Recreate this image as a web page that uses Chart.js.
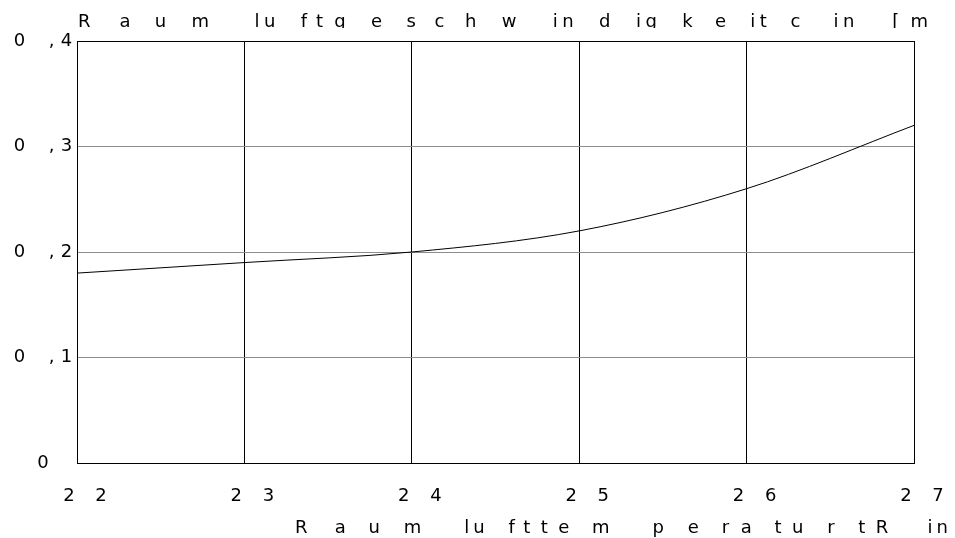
<!DOCTYPE html>
<html>
<head>
<meta charset="utf-8">
<script src="https://cdn.jsdelivr.net/npm/chart.js@4/dist/chart.umd.min.js"></script>
<style>
  html, body { margin: 0; padding: 0; background: #fff; }
  #wrap { width: 955px; height: 538px; position: relative; }
</style>
</head>
<body>
<div id="wrap"><canvas id="c"></canvas></div>
<script>
// Room air temperature (°C) and the corresponding air speed (m/s)
const temperatures = [22, 23, 24, 25, 26, 27];
const airSpeed = [0.18, 0.19, 0.20, 0.22, 0.26, 0.32];

// Tick labels
const xTickLabels = ['22', '23', '24', '25', '26', '27'];
const yTickLabels = ['0', '0,1', '0,2', '0,3', '0,4'];

const titleText = 'Raumluftgeschwindigkeit c in [m';
const xAxisTitle = 'Raumlufttemperatur tR in';

const FONT = '18px "DejaVu Sans"';
// Plotter lettering: each glyph advances by a stretched version of its
// natural width, so wide letters stand far apart and narrow ones huddle.
const STRETCH = 3.6, SHRINK = 10;

function glyphs(ctx, text) {
  return [...text].map(ch => {
    const w = ctx.measureText(ch).width;
    return { ch, w, adv: Math.max(STRETCH * w - SHRINK, w + 2) };
  });
}
function inkWidth(list, k) {
  let w = 0;
  list.forEach((g, i) => { w += i < list.length - 1 ? g.adv * k : g.w; });
  return w;
}
// align: 'left' puts the ink start at x, 'center' centres the ink on x.
// k scales the advances; fit (if given) sets k so the ink spans that width.
function plotterText(ctx, text, x, y, align, k, fit) {
  const list = glyphs(ctx, text);
  if (fit) {
    const base = inkWidth(list, 1) - list[list.length - 1].w;
    k = (fit - list[list.length - 1].w) / base;
  }
  let pos = align === 'center' ? x - inkWidth(list, k) / 2 : x;
  ctx.textAlign = 'left';
  list.forEach(g => {
    ctx.fillText(g.ch, pos, y);
    pos += g.adv * k;
  });
}

const plotterLabels = {
  id: 'plotterLabels',
  afterDraw(chart) {
    const { ctx, chartArea: a, scales } = chart;
    ctx.save();
    // frame
    ctx.strokeStyle = '#000';
    ctx.lineWidth = 1;
    ctx.strokeRect(Math.round(a.left) + 0.5, Math.round(a.top) + 0.5,
                   Math.round(a.right - a.left), Math.round(a.bottom - a.top));

    ctx.fillStyle = '#000';
    ctx.font = FONT;
    ctx.textBaseline = 'middle';

    // x tick labels
    scales.x.ticks.forEach((t, i) => {
      const px = scales.x.getPixelForValue(t.value);
      plotterText(ctx, xTickLabels[i] || '', px + 8, 496, 'center', 1.03);
    });

    // y tick labels
    scales.y.ticks.forEach((t, i) => {
      const py = scales.y.getPixelForValue(t.value);
      plotterText(ctx, yTickLabels[i] || '', a.left - 34, py, 'center', 1.12);
    });

    // title, with descenders cut off at the baseline
    ctx.textBaseline = 'alphabetic';
    ctx.save();
    ctx.beginPath();
    ctx.rect(0, 0, chart.width, 28);
    ctx.clip();
    plotterText(ctx, titleText, a.left + 1, 27, 'left', 1, 850);
    ctx.restore();

    // x axis title
    plotterText(ctx, xAxisTitle, 295, 533, 'left', 1, 653);
    ctx.restore();
  }
};

new Chart(document.getElementById('c'), {
  type: 'line',
  data: {
    datasets: [{
      data: temperatures.map((t, i) => ({ x: t, y: airSpeed[i] })),
      borderColor: '#000',
      borderWidth: 1,
      pointRadius: 0,
      fill: false,
      cubicInterpolationMode: 'monotone'
    }]
  },
  options: {
    responsive: true,
    maintainAspectRatio: false,
    animation: false,
    layout: { padding: { left: 77, top: 41, right: 41, bottom: 75 } },
    plugins: { legend: { display: false }, title: { display: false }, tooltip: { enabled: false } },
    scales: {
      x: {
        type: 'linear',
        min: 22, max: 27,
        ticks: { stepSize: 1, display: false },
        grid: { color: '#000', lineWidth: 1, drawTicks: false },
        border: { color: '#000', width: 1 }
      },
      y: {
        type: 'linear',
        min: 0, max: 0.4,
        ticks: { stepSize: 0.1, display: false },
        grid: { color: '#8c8c8c', lineWidth: 1, drawTicks: false },
        border: { color: '#000', width: 1 }
      }
    }
  },
  plugins: [plotterLabels]
});
</script>
</body>
</html>
